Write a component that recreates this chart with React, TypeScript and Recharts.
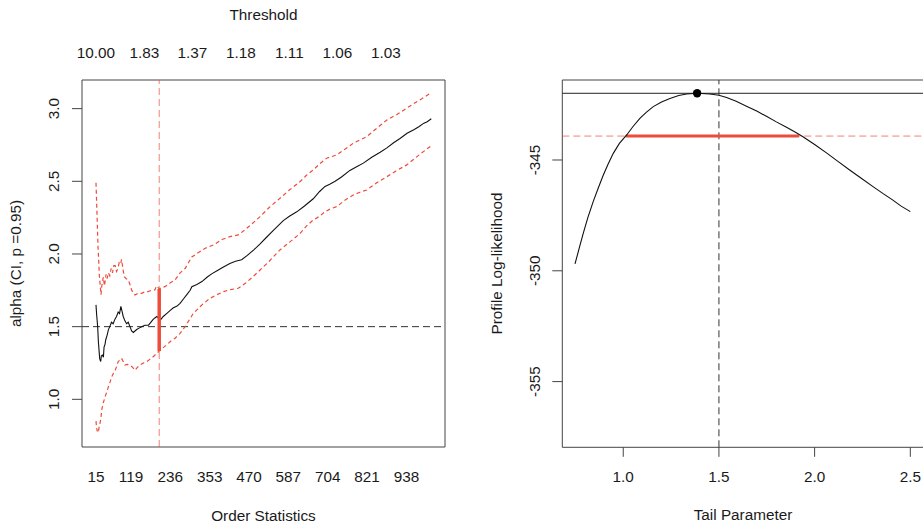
import React from 'react';
import { LineChart, Line, XAxis, YAxis, ReferenceLine, ReferenceArea, ReferenceDot } from 'recharts';

const FONT = '"Liberation Sans", Arial, Helvetica, sans-serif';
const FS = 15.3;
const INK = '#1a1a1a';
const AXIS = '#444';
const RED = '#ee4b3b';

// Hill plot (left): [order statistic k, alpha]
const hillAlpha: [number, number][] = [
  [15, 1.65], [17, 1.58], [20, 1.5], [22, 1.4], [24, 1.34], [26, 1.28], [29, 1.26], [31, 1.3], [34, 1.305],
  [37, 1.29], [39, 1.36], [42, 1.38], [44, 1.41], [48, 1.44], [52, 1.48], [56, 1.5], [61, 1.53], [66, 1.52],
  [71, 1.55], [76, 1.57], [81, 1.6], [85, 1.59], [89, 1.64], [92, 1.61], [96, 1.57], [101, 1.54], [106, 1.52],
  [111, 1.53], [116, 1.5], [121, 1.47], [126, 1.46], [131, 1.47], [136, 1.48], [143, 1.49], [151, 1.5],
  [160, 1.51], [171, 1.51], [178, 1.53], [185, 1.55], [190, 1.56], [196, 1.57], [200, 1.56], [203, 1.55],
  [208, 1.55], [215, 1.57], [225, 1.59], [235, 1.61], [245, 1.63], [255, 1.64], [265, 1.66], [275, 1.69],
  [285, 1.72], [295, 1.75], [300, 1.775], [315, 1.79], [330, 1.81], [345, 1.84], [360, 1.865], [375, 1.885],
  [390, 1.905], [413, 1.935], [430, 1.95], [448, 1.96], [465, 1.99], [485, 2.03], [503, 2.07], [520, 2.11],
  [535, 2.145], [550, 2.18], [572, 2.23], [590, 2.26], [612, 2.29], [635, 2.33], [661, 2.38], [680, 2.43],
  [696, 2.465], [710, 2.48], [726, 2.5], [745, 2.53], [770, 2.575], [790, 2.6], [810, 2.625], [835, 2.665],
  [860, 2.7], [880, 2.73], [900, 2.765], [919, 2.795], [940, 2.83], [960, 2.855], [975, 2.875], [990, 2.9],
  [1000, 2.91], [1012, 2.93],
];

const upperCI: [number, number][] = [
  [15, 2.49], [17, 2.35], [19, 2.2], [21, 2.05], [23, 1.96], [25, 1.85], [27, 1.8], [30, 1.72], [32, 1.775],
  [35, 1.82], [37, 1.84], [40, 1.78], [42, 1.81], [45, 1.86], [48, 1.83], [52, 1.87], [56, 1.85], [60, 1.9],
  [64, 1.87], [68, 1.92], [72, 1.92], [76, 1.88], [80, 1.9], [84, 1.94], [88, 1.93], [91, 1.963], [95, 1.9],
  [99, 1.844], [105, 1.83], [111, 1.821], [116, 1.79], [121, 1.752], [126, 1.73], [131, 1.718], [140, 1.73],
  [151, 1.729], [160, 1.74], [170, 1.741], [180, 1.75], [190, 1.752], [195, 1.78], [203, 1.76], [212, 1.77],
  [220, 1.775], [235, 1.8], [250, 1.821], [265, 1.87], [280, 1.9], [300, 1.98], [320, 2.01], [340, 2.04],
  [364, 2.062], [390, 2.1], [413, 2.119], [438, 2.131], [460, 2.17], [480, 2.21], [503, 2.257], [530, 2.32],
  [562, 2.383], [590, 2.44], [622, 2.498], [640, 2.54], [661, 2.578], [680, 2.62], [701, 2.659], [730, 2.681],
  [755, 2.72], [780, 2.762], [800, 2.785], [820, 2.807], [850, 2.865], [880, 2.922], [910, 2.96], [939, 3.003],
  [960, 3.035], [985, 3.07], [1012, 3.11],
];

const lowerCI: [number, number][] = [
  [15, 0.85], [17, 0.8], [19, 0.78], [21, 0.8], [23, 0.79], [25, 0.82], [27, 0.835], [30, 0.88], [32, 0.926],
  [36, 0.97], [42, 1.018], [47, 1.05], [52, 1.087], [57, 1.12], [62, 1.156], [67, 1.18], [72, 1.2], [77, 1.23],
  [81, 1.259], [86, 1.27], [91, 1.282], [96, 1.26], [101, 1.236], [108, 1.24], [116, 1.236], [124, 1.22],
  [131, 1.2], [138, 1.22], [146, 1.236], [156, 1.25], [166, 1.259], [175, 1.275], [185, 1.293], [195, 1.315],
  [203, 1.332], [212, 1.35], [225, 1.374], [237, 1.4], [250, 1.42], [265, 1.454], [280, 1.5], [304, 1.59],
  [330, 1.65], [354, 1.695], [375, 1.72], [394, 1.741], [415, 1.755], [438, 1.764], [460, 1.8], [480, 1.84],
  [503, 1.89], [530, 1.95], [562, 2.028], [590, 2.08], [622, 2.142], [640, 2.19], [661, 2.234], [680, 2.26],
  [696, 2.291], [712, 2.31], [731, 2.326], [755, 2.37], [780, 2.406], [800, 2.425], [820, 2.44], [850, 2.49],
  [880, 2.532], [910, 2.575], [939, 2.613], [975, 2.68], [1012, 2.745],
];

const orderTicks = [15, 119, 236, 353, 470, 587, 704, 821, 938];
const thresholdTicks = [15, 159, 302, 446, 590, 733, 877];
const thresholdLabels = ['10.00', '1.83', '1.37', '1.18', '1.11', '1.06', '1.03'];
const alphaTicks = [1.0, 1.5, 2.0, 2.5, 3.0];
const chosenK = 203;
const chosenCI = [1.332, 1.759];
const refAlpha = 1.5;

// profile likelihood (right)
const tailParam = [
  0.748, 0.77, 0.791, 0.815, 0.843, 0.87, 0.896, 0.92, 0.948, 0.98, 1.018, 1.05, 1.087, 1.12, 1.157, 1.2, 1.244,
  1.29, 1.331, 1.386, 1.452, 1.5, 1.54, 1.59, 1.644, 1.7, 1.748, 1.8, 1.853, 1.9, 1.939, 2.0, 2.062, 2.12, 2.183,
  2.24, 2.305, 2.36, 2.409, 2.45, 2.5,
];
const profileLL = [
  -349.69, -348.98, -348.31, -347.6, -346.88, -346.25, -345.68, -345.2, -344.7, -344.25, -343.87, -343.5, -343.12,
  -342.85, -342.59, -342.38, -342.22, -342.09, -342.02, -341.99, -342.02, -342.08, -342.18, -342.35, -342.57,
  -342.8, -343.03, -343.28, -343.52, -343.75, -343.95, -344.3, -344.68, -345.05, -345.45, -345.8, -346.2,
  -346.53, -346.81, -347.07, -347.33,
];
const tailTicks = [1.0, 1.5, 2.0, 2.5];
const llTicks = [-355, -350, -345];
const mleTail = 1.386;
const mleLL = -341.99;
const cutoffLL = -343.92;
const ciTail = [1.013, 1.918];
const refTail = 1.5;

const toRows = (s: [number, number][]) => s.map(([k, a]) => ({ k, a }));
const profileRows = tailParam.map((t, i) => ({ t, ll: profileLL[i] }));

const textProps = { fontSize: FS, fontFamily: FONT, fill: INK };

const xTick = (off: number, fmt: (v: number) => string) => (p: any) => (
  <text x={p.x} y={p.y + off} textAnchor="middle" dominantBaseline="central" {...textProps}>
    {fmt(p.payload.value)}
  </text>
);

const yTick = (off: number, fmt: (v: number) => string) => (p: any) => (
  <text
    transform={`translate(${p.x - off},${p.y}) rotate(-90)`}
    textAnchor="middle"
    dominantBaseline="central"
    {...textProps}
  >
    {fmt(p.payload.value)}
  </text>
);

const HillPlot = () => {
  const xDom: [number, number] = [-26.6, 1052.8];
  const yDom: [number, number] = [0.672, 3.197];
  return (
    <LineChart width={460} height={525} margin={{ top: 50, right: 15, bottom: 48, left: 0 }}>
      <XAxis
        xAxisId={0}
        dataKey="k"
        type="number"
        domain={xDom}
        allowDataOverflow
        ticks={orderTicks}
        tickLine={false}
        axisLine={false}
        tickSize={0}
        tickMargin={0}
        height={30}
        tick={xTick(29, (v) => String(v))}
      />
      <XAxis
        xAxisId="top"
        orientation="top"
        dataKey="k"
        type="number"
        domain={xDom}
        allowDataOverflow
        ticks={thresholdTicks}
        tickLine={false}
        axisLine={false}
        tickSize={0}
        tickMargin={0}
        height={30}
        tick={xTick(-28, (v) => thresholdLabels[thresholdTicks.indexOf(v)])}
      />
      <YAxis
        type="number"
        domain={yDom}
        allowDataOverflow
        ticks={alphaTicks}
        width={82}
        axisLine={false}
        tickLine={{ stroke: AXIS }}
        tickSize={10}
        tickMargin={0}
        tick={yTick(18.3, (v) => v.toFixed(1))}
      />
      <ReferenceArea x1={xDom[0]} x2={xDom[1]} y1={yDom[0]} y2={yDom[1]} fill="none" stroke={AXIS} ifOverflow="visible" />
      <ReferenceLine y={refAlpha} stroke="#333" strokeDasharray="7 4" />
      <ReferenceLine x={chosenK} stroke={RED} strokeOpacity={0.7} strokeDasharray="7 4" />
      <Line data={toRows(lowerCI)} dataKey="a" stroke={RED} strokeWidth={1.2} strokeDasharray="4 3" dot={false} activeDot={false} isAnimationActive={false} />
      <Line xAxisId="top" data={toRows(upperCI)} dataKey="a" stroke={RED} strokeWidth={1.2} strokeDasharray="4 3" dot={false} activeDot={false} isAnimationActive={false} />
      <Line data={toRows(hillAlpha)} dataKey="a" stroke="#111" strokeWidth={1.1} dot={false} activeDot={false} isAnimationActive={false} />
      <ReferenceLine
        segment={[{ x: chosenK, y: chosenCI[0] }, { x: chosenK, y: chosenCI[1] }]}
        stroke={RED}
        strokeWidth={3.5}
      />
    </LineChart>
  );
};

const ProfilePlot = () => {
  const xDom: [number, number] = [0.6816, 2.5715];
  const yDom: [number, number] = [-357.965, -341.39];
  return (
    <LineChart width={470} height={525} margin={{ top: 80, right: 16, bottom: 47.7, left: 0 }}>
      <XAxis
        dataKey="t"
        type="number"
        domain={xDom}
        allowDataOverflow
        ticks={tailTicks}
        axisLine={false}
        tickLine={{ stroke: AXIS }}
        tickSize={9.5}
        tickMargin={0}
        height={30}
        tick={xTick(19.9, (v) => v.toFixed(1))}
      />
      <YAxis
        type="number"
        domain={yDom}
        allowDataOverflow
        ticks={llTicks}
        width={92.3}
        axisLine={false}
        tickLine={{ stroke: AXIS }}
        tickSize={10}
        tickMargin={0}
        tick={yTick(18.3, (v) => String(v))}
      />
      <ReferenceArea x1={xDom[0]} x2={xDom[1]} y1={yDom[0]} y2={yDom[1]} fill="none" stroke={AXIS} ifOverflow="visible" />
      <ReferenceLine y={mleLL} stroke="#222" strokeWidth={1} />
      <ReferenceLine y={cutoffLL} stroke={RED} strokeOpacity={0.7} strokeDasharray="7 4" />
      <ReferenceLine x={refTail} stroke="#333" strokeDasharray="7 4" />
      <ReferenceLine
        segment={[{ x: ciTail[0], y: cutoffLL }, { x: ciTail[1], y: cutoffLL }]}
        stroke={RED}
        strokeWidth={3}
      />
      <Line data={profileRows} dataKey="ll" stroke="#111" strokeWidth={1.1} dot={false} activeDot={false} isAnimationActive={false} />
      <ReferenceDot x={mleTail} y={mleLL} r={4.2} fill="#000" stroke="none" />
    </LineChart>
  );
};

export default function App() {
  return (
    <div style={{ position: 'absolute', left: 0, top: 0, width: 923, height: 525, overflow: 'hidden', background: '#fff' }}>
      <div style={{ position: 'absolute', left: 0, top: 0 }}>
        <HillPlot />
      </div>
      <div style={{ position: 'absolute', left: 470, top: 0 }}>
        <ProfilePlot />
      </div>
      <svg width={923} height={525} style={{ position: 'absolute', left: 0, top: 0, pointerEvents: 'none' }}>
        <text x={263.5} y={14} textAnchor="middle" dominantBaseline="central" {...textProps}>Threshold</text>
        <text x={263.5} y={515} textAnchor="middle" dominantBaseline="central" {...textProps}>Order Statistics</text>
        <text x={743} y={514.5} textAnchor="middle" dominantBaseline="central" {...textProps}>Tail Parameter</text>
        <text transform="translate(15,263.5) rotate(-90)" textAnchor="middle" dominantBaseline="central" {...textProps}>
          alpha (CI, p =0.95)
        </text>
        <text transform="translate(496,263.5) rotate(-90)" textAnchor="middle" dominantBaseline="central" {...textProps}>
          Profile Log-likelihood
        </text>
      </svg>
    </div>
  );
}
